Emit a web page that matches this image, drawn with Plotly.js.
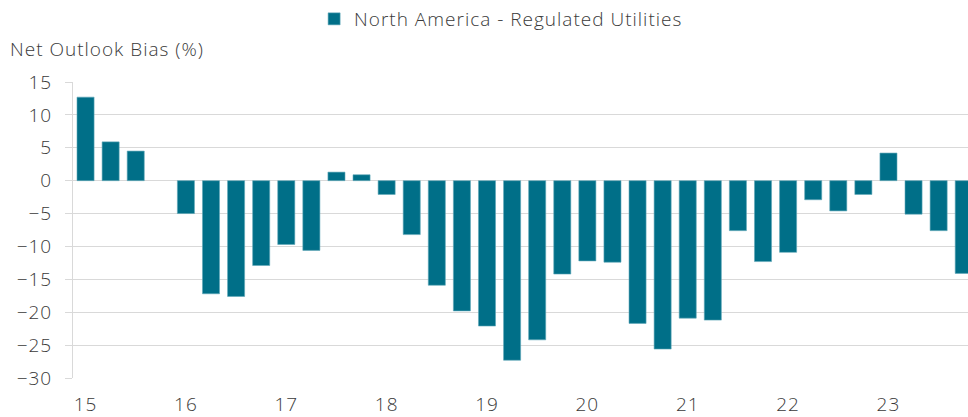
<!DOCTYPE html>
<html>
<head>
<meta charset="utf-8">
<script src="https://cdn.plot.ly/plotly-3.0.1.min.js"></script>
<style>
html,body{margin:0;padding:0;background:#fff;}
#chart{width:968px;height:417px;}
#chart svg text{letter-spacing:1px;}
</style>
</head>
<body>
<div id="chart"></div>
<script>
const quarters = [
  "2015Q1","2015Q2","2015Q3","2015Q4",
  "2016Q1","2016Q2","2016Q3","2016Q4",
  "2017Q1","2017Q2","2017Q3","2017Q4",
  "2018Q1","2018Q2","2018Q3","2018Q4",
  "2019Q1","2019Q2","2019Q3","2019Q4",
  "2020Q1","2020Q2","2020Q3","2020Q4",
  "2021Q1","2021Q2","2021Q3","2021Q4",
  "2022Q1","2022Q2","2022Q3","2022Q4",
  "2023Q1","2023Q2","2023Q3","2023Q4"
];
const netOutlookBias = [
  12.7, 5.9, 4.5, null,
  -5.0, -17.2, -17.6, -12.9,
  -9.7, -10.6, 1.3, 0.9,
  -2.1, -8.2, -15.9, -19.8,
  -22.1, -27.3, -24.2, -14.2,
  -12.2, -12.4, -21.7, -25.6,
  -20.9, -21.2, -7.6, -12.3,
  -10.9, -2.9, -4.6, -2.1,
  4.2, -5.1, -7.6, -14.1
];
const tickQuarters = ["2015Q1","2016Q1","2017Q1","2018Q1","2019Q1","2020Q1","2021Q1","2022Q1","2023Q1"];
const tickLabels = ["15","16","17","18","19","20","21","22","23"];
const seriesName = "North America - Regulated Utilities";
const yTitle = "Net Outlook Bias (%)";

const FONT = "'Open Sans', Roboto, sans-serif";
const TXT = "#3a3a3a";

const trace = {
  type: "bar",
  x: quarters,
  y: netOutlookBias,
  name: seriesName,
  marker: {color: "#006f88", line: {color: "#5fa7b8", width: 0.6}},
  showlegend: true
};

const layout = {
  width: 968, height: 417,
  margin: {l: 72.7, r: 0, t: 82.3, b: 38.7},
  paper_bgcolor: "#ffffff",
  plot_bgcolor: "#ffffff",
  font: {family: FONT, size: 19, color: TXT, weight: 300},
  bargap: 0.32,
  showlegend: true,
  legend: {
    orientation: "h", x: 0.2694, xanchor: "left", y: 1, yref: "container", yanchor: "top",
    font: {family: FONT, size: 19, color: TXT, weight: 300},
    itemwidth: 30, tracegroupgap: 0, entrywidth: 420, entrywidthmode: "pixels"
  },
  xaxis: {
    type: "category",
    range: [-0.5, 35.17],
    tickmode: "array",
    tickvals: tickQuarters,
    ticktext: tickLabels,
    ticks: "outside", ticklen: 9, tickcolor: "rgba(0,0,0,0)",
    showgrid: false, showline: false, zeroline: false,
    tickfont: {family: FONT, size: 19, color: TXT, weight: 300}
  },
  yaxis: {
    range: [-30, 15],
    tickvals: [-30,-25,-20,-15,-10,-5,0,5,10,15],
    ticks: "outside", ticklen: 7, tickcolor: "#d9d9d9",
    showgrid: true, gridcolor: "#d9d9d9", gridwidth: 1,
    zeroline: true, zerolinecolor: "#d9d9d9", zerolinewidth: 1,
    showline: true, linecolor: "#d9d9d9", linewidth: 1,
    ticklabelstandoff: 9,
    tickfont: {family: FONT, size: 19, color: TXT, weight: 300}
  },
  annotations: [{
    text: yTitle, xref: "paper", yref: "paper", x: -0.062, y: 1.06,
    xanchor: "left", yanchor: "bottom", showarrow: false,
    font: {family: FONT, size: 19, color: TXT, weight: 300}
  }]
};

Plotly.newPlot("chart", [trace], layout, {displayModeBar: false, staticPlot: true});
</script>
</body>
</html>
